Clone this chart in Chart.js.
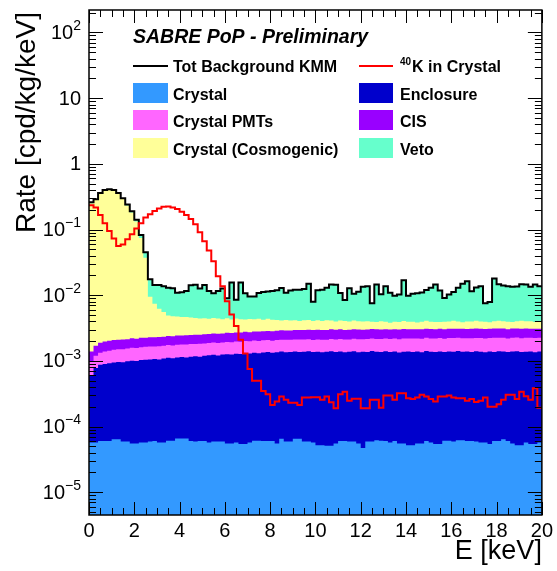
<!DOCTYPE html>
<html>
<head>
<meta charset="utf-8">
<script src="https://cdn.jsdelivr.net/npm/chart.js@4.4.1/dist/chart.umd.min.js"></script>
<style>
  html, body { margin: 0; padding: 0; background: #fff; }
  #wrap { width: 557px; height: 571px; }
</style>
</head>
<body>
<div id="wrap"><canvas id="spectrum"></canvas></div>
<script>
// lower edges of the 0.2 keV bins
const binLow = [
  0, 0.2, 0.4, 0.6, 0.8, 1, 1.2, 1.4, 1.6, 1.8,
  2, 2.2, 2.4, 2.6, 2.8, 3, 3.2, 3.4, 3.6, 3.8,
  4, 4.2, 4.4, 4.6, 4.8, 5, 5.2, 5.4, 5.6, 5.8,
  6, 6.2, 6.4, 6.6, 6.8, 7, 7.2, 7.4, 7.6, 7.8,
  8, 8.2, 8.4, 8.6, 8.8, 9, 9.2, 9.4, 9.6, 9.8,
  10, 10.2, 10.4, 10.6, 10.8, 11, 11.2, 11.4, 11.6, 11.8,
  12, 12.2, 12.4, 12.6, 12.8, 13, 13.2, 13.4, 13.6, 13.8,
  14, 14.2, 14.4, 14.6, 14.8, 15, 15.2, 15.4, 15.6, 15.8,
  16, 16.2, 16.4, 16.6, 16.8, 17, 17.2, 17.4, 17.6, 17.8,
  18, 18.2, 18.4, 18.6, 18.8, 19, 19.2, 19.4, 19.6, 19.8
];
const E_MAX = 20;

// components of the stacked background [cpd/kg/keV]
const crystal = [
  5.7e-5, 5.7e-5, 6.0e-5, 6.0e-5, 6.0e-5, 6.4e-5, 6.4e-5, 5.9e-5, 5.9e-5, 5.5e-5,
  5.5e-5, 5.7e-5, 5.7e-5, 5.9e-5, 6.0e-5, 5.7e-5, 5.7e-5, 6.1e-5, 6.1e-5, 6.6e-5,
  6.6e-5, 6.6e-5, 6.0e-5, 5.9e-5, 6.0e-5, 6.0e-5, 5.7e-5, 5.9e-5, 5.9e-5, 5.9e-5,
  5.5e-5, 5.5e-5, 5.7e-5, 5.4e-5, 5.4e-5, 5.7e-5, 6.1e-5, 6.1e-5, 6.0e-5, 6.0e-5,
  6.0e-5, 5.5e-5, 6.5e-5, 5.9e-5, 5.9e-5, 6.5e-5, 6.5e-5, 5.9e-5, 5.9e-5, 5.7e-5,
  5.2e-5, 5.2e-5, 5.1e-5, 5.1e-5, 5.5e-5, 6.0e-5, 6.0e-5, 5.9e-5, 5.9e-5, 5.5e-5,
  4.7e-5, 5.9e-5, 5.9e-5, 6.2e-5, 6.1e-5, 6.0e-5, 5.7e-5, 6.0e-5, 5.5e-5, 5.5e-5,
  5.2e-5, 5.2e-5, 5.5e-5, 5.5e-5, 6.0e-5, 5.7e-5, 5.4e-5, 5.4e-5, 6.1e-5, 6.1e-5,
  5.9e-5, 6.2e-5, 6.2e-5, 6.0e-5, 6.0e-5, 5.9e-5, 5.7e-5, 5.7e-5, 5.4e-5, 6.0e-5,
  6.0e-5, 6.4e-5, 6.0e-5, 5.5e-5, 5.2e-5, 5.2e-5, 5.7e-5, 5.4e-5, 5.4e-5, 5.7e-5
];
const enclosure = [
  0.55e-3, 0.72e-3, 0.81e-3, 0.84e-3, 0.86e-3, 0.88e-3, 0.90e-3, 0.89e-3, 0.93e-3, 0.95e-3,
  0.94e-3, 0.97e-3, 0.98e-3, 0.99e-3, 1.01e-3, 0.99e-3, 1.03e-3, 1.05e-3, 1.04e-3, 1.06e-3,
  1.08e-3, 1.06e-3, 1.10e-3, 1.12e-3, 1.10e-3, 1.14e-3, 1.16e-3, 1.18e-3, 1.15e-3, 1.19e-3,
  1.21e-3, 1.19e-3, 1.23e-3, 1.22e-3, 1.25e-3, 1.24e-3, 1.27e-3, 1.25e-3, 1.28e-3, 1.30e-3,
  1.27e-3, 1.30e-3, 1.32e-3, 1.29e-3, 1.31e-3, 1.33e-3, 1.30e-3, 1.32e-3, 1.34e-3, 1.31e-3,
  1.33e-3, 1.30e-3, 1.32e-3, 1.35e-3, 1.31e-3, 1.33e-3, 1.29e-3, 1.32e-3, 1.34e-3, 1.30e-3,
  1.33e-3, 1.31e-3, 1.35e-3, 1.32e-3, 1.30e-3, 1.34e-3, 1.31e-3, 1.33e-3, 1.29e-3, 1.32e-3,
  1.34e-3, 1.31e-3, 1.33e-3, 1.30e-3, 1.35e-3, 1.32e-3, 1.31e-3, 1.34e-3, 1.30e-3, 1.33e-3,
  1.32e-3, 1.35e-3, 1.31e-3, 1.33e-3, 1.30e-3, 1.34e-3, 1.32e-3, 1.29e-3, 1.33e-3, 1.31e-3,
  1.34e-3, 1.32e-3, 1.30e-3, 1.33e-3, 1.35e-3, 1.31e-3, 1.32e-3, 1.34e-3, 1.30e-3, 1.33e-3
];
const pmts = [
  0.37e-3, 0.42e-3, 0.46e-3, 0.49e-3, 0.51e-3, 0.53e-3, 0.54e-3, 0.56e-3, 0.55e-3, 0.58e-3,
  0.57e-3, 0.59e-3, 0.60e-3, 0.61e-3, 0.59e-3, 0.62e-3, 0.61e-3, 0.63e-3, 0.62e-3, 0.64e-3,
  0.63e-3, 0.65e-3, 0.64e-3, 0.63e-3, 0.66e-3, 0.64e-3, 0.65e-3, 0.66e-3, 0.67e-3, 0.65e-3,
  0.68e-3, 0.67e-3, 0.69e-3, 0.68e-3, 0.70e-3, 0.69e-3, 0.71e-3, 0.70e-3, 0.72e-3, 0.71e-3,
  0.70e-3, 0.73e-3, 0.72e-3, 0.74e-3, 0.73e-3, 0.72e-3, 0.75e-3, 0.73e-3, 0.74e-3, 0.72e-3,
  0.74e-3, 0.75e-3, 0.73e-3, 0.76e-3, 0.75e-3, 0.77e-3, 0.76e-3, 0.74e-3, 0.77e-3, 0.78e-3,
  0.76e-3, 0.78e-3, 0.79e-3, 0.77e-3, 0.79e-3, 0.80e-3, 0.78e-3, 0.80e-3, 0.79e-3, 0.81e-3,
  0.80e-3, 0.82e-3, 0.80e-3, 0.81e-3, 0.83e-3, 0.81e-3, 0.82e-3, 0.84e-3, 0.82e-3, 0.83e-3,
  0.85e-3, 0.83e-3, 0.84e-3, 0.82e-3, 0.85e-3, 0.84e-3, 0.86e-3, 0.84e-3, 0.85e-3, 0.87e-3,
  0.85e-3, 0.86e-3, 0.84e-3, 0.87e-3, 0.86e-3, 0.85e-3, 0.87e-3, 0.86e-3, 0.88e-3, 0.86e-3
];
const cis = [
  0.41e-3, 0.50e-3, 0.56e-3, 0.58e-3, 0.59e-3, 0.60e-3, 0.59e-3, 0.61e-3, 0.60e-3, 0.62e-3,
  0.61e-3, 0.63e-3, 0.62e-3, 0.64e-3, 0.63e-3, 0.65e-3, 0.64e-3, 0.66e-3, 0.65e-3, 0.67e-3,
  0.66e-3, 0.68e-3, 0.67e-3, 0.69e-3, 0.68e-3, 0.70e-3, 0.70e-3, 0.71e-3, 0.72e-3, 0.71e-3,
  0.73e-3, 0.74e-3, 0.73e-3, 0.75e-3, 0.76e-3, 0.75e-3, 0.77e-3, 0.78e-3, 0.77e-3, 0.79e-3,
  0.80e-3, 0.79e-3, 0.81e-3, 0.82e-3, 0.81e-3, 0.83e-3, 0.84e-3, 0.83e-3, 0.85e-3, 0.86e-3,
  0.85e-3, 0.86e-3, 0.84e-3, 0.87e-3, 0.85e-3, 0.86e-3, 0.84e-3, 0.86e-3, 0.85e-3, 0.87e-3,
  0.84e-3, 0.86e-3, 0.85e-3, 0.87e-3, 0.85e-3, 0.84e-3, 0.86e-3, 0.85e-3, 0.87e-3, 0.86e-3,
  0.84e-3, 0.86e-3, 0.85e-3, 0.87e-3, 0.85e-3, 0.86e-3, 0.84e-3, 0.86e-3, 0.85e-3, 0.87e-3,
  0.85e-3, 0.84e-3, 0.86e-3, 0.85e-3, 0.87e-3, 0.86e-3, 0.84e-3, 0.86e-3, 0.85e-3, 0.87e-3,
  0.85e-3, 0.86e-3, 0.84e-3, 0.86e-3, 0.85e-3, 0.87e-3, 0.86e-3, 0.84e-3, 0.86e-3, 0.85e-3
];
const cosmogenic = [
  0.25, 0.28, 0.35, 0.39, 0.40, 0.39, 0.35, 0.29, 0.23, 0.18,
  0.13, 0.072, 0.035, 0.0072, 0.0051, 0.0039, 0.0032, 0.0025, 0.0024, 0.0023,
  0.0022, 0.0022, 0.0021, 0.0020, 0.0019, 0.0019, 0.0018, 0.0019, 0.0018, 0.0017,
  0.0018, 0.0016, 0.0017, 0.0016, 0.0015, 0.0016, 0.0015, 0.0016, 0.0014, 0.0015,
  0.0014, 0.0013, 0.0012, 0.0013, 0.0012, 0.0012, 0.0011, 0.0012, 0.0012, 0.0011,
  0.0012, 0.0011, 0.0012, 0.0011, 0.0010, 0.0011, 0.0011, 0.0010, 0.0011, 0.0010,
  0.0010, 0.0010, 0.0009, 0.0009, 0.0010, 0.0009, 0.0008, 0.0009, 0.0009, 0.0010,
  0.0009, 0.0009, 0.0008, 0.0009, 0.0010, 0.0009, 0.0009, 0.0008, 0.0009, 0.0009,
  0.0010, 0.0009, 0.0008, 0.0009, 0.0009, 0.0010, 0.0009, 0.0009, 0.0008, 0.0009,
  0.0010, 0.0009, 0.0009, 0.0008, 0.0009, 0.0010, 0.0009, 0.0009, 0.0008, 0.0009
];
const veto = [
  0.0080, 0.0078, 0.0082, 0.0079, 0.0081, 0.0080, 0.0078, 0.0082, 0.0080, 0.0079,
  0.0081, 0.0080, 0.0078, 0.0080, 0.0069, 0.0081, 0.0082, 0.0081, 0.0080, 0.0062,
  0.0065, 0.0069, 0.0096, 0.0099, 0.0083, 0.0099, 0.0072, 0.0062, 0.0072, 0.0083,
  0.0045, 0.0113, 0.0041, 0.0113, 0.0064, 0.0052, 0.0052, 0.0064, 0.0070, 0.0070,
  0.0074, 0.0077, 0.0088, 0.0067, 0.0077, 0.0080, 0.0080, 0.0083, 0.0108, 0.0039,
  0.0077, 0.0080, 0.0088, 0.0104, 0.0104, 0.0067, 0.0044, 0.0088, 0.0064, 0.0073,
  0.0095, 0.0097, 0.0036, 0.0106, 0.0063, 0.0097, 0.0071, 0.0059, 0.0063, 0.0128,
  0.0059, 0.0066, 0.0069, 0.0071, 0.0079, 0.0090, 0.0106, 0.0079, 0.0051, 0.0063,
  0.0071, 0.0090, 0.0110, 0.0123, 0.0075, 0.0090, 0.0097, 0.0036, 0.0040, 0.0139,
  0.0106, 0.0101, 0.0097, 0.0095, 0.0095, 0.0106, 0.0106, 0.0095, 0.0106, 0.0097
];
// 40K in the crystal, drawn unstacked
const k40 = [
  0.235, 0.217, 0.166, 0.125, 0.095, 0.073, 0.056, 0.059, 0.071, 0.085,
  0.104, 0.125, 0.153, 0.171, 0.192, 0.209, 0.222, 0.225, 0.217, 0.205,
  0.186, 0.166, 0.144, 0.120, 0.091, 0.066, 0.048, 0.033, 0.0195, 0.0137,
  0.0081, 0.0051, 0.0034, 0.0021, 0.0013, 0.00075, 0.00050, 0.00050, 0.000349, 0.00031,
  0.000213, 0.00024, 0.000286, 0.000255, 0.000231, 0.000231, 0.000213, 0.000276, 0.000276, 0.00028,
  0.00028, 0.000255, 0.000286, 0.000235, 0.00019, 0.00031, 0.00034, 0.000248, 0.000265, 0.000265,
  0.00019, 0.00019, 0.000255, 0.000255, 0.000194, 0.000296, 0.000296, 0.000255, 0.000321, 0.000321,
  0.00027, 0.000262, 0.000276, 0.000306, 0.000286, 0.000262, 0.00024, 0.000286, 0.000286, 0.000296,
  0.000276, 0.00027, 0.00027, 0.000246, 0.000262, 0.000236, 0.000246, 0.000276, 0.0002, 0.0002,
  0.000218, 0.000255, 0.000306, 0.000306, 0.000262, 0.00034, 0.00029, 0.000255, 0.000384, 0.000194
];

const yLabelExps = [2, 1, 0, -1, -2, -3, -4, -5];
const Y_MIN = 4.5e-6;
const Y_MAX = 220;
const FONT = '"Liberation Sans", Arial, Helvetica, sans-serif';

const stackDefs = [
  { label: 'Crystal', values: crystal, color: '#3399ff' },
  { label: 'Enclosure', values: enclosure, color: '#0000cc' },
  { label: 'Crystal PMTs', values: pmts, color: '#ff66ff' },
  { label: 'CIS', values: cis, color: '#9900ff' },
  { label: 'Crystal (Cosmogenic)', values: cosmogenic, color: '#ffff99' },
  { label: 'Veto', values: veto, color: '#66ffcc' }
];
const total = binLow.map((_, i) => stackDefs.reduce((s, d) => s + d.values[i], 0));

// histogram points: one per lower edge, plus the closing edge
function steps(vals) {
  const pts = vals.map((v, i) => ({ x: binLow[i], y: v }));
  pts.push({ x: E_MAX, y: vals[vals.length - 1] });
  return pts;
}

const datasets = stackDefs.map(d => ({
  label: d.label,
  data: steps(d.values),
  yAxisID: 'y',
  stepped: true,
  fill: 'start',
  backgroundColor: d.color,
  borderColor: 'rgba(0,0,0,0)',
  borderWidth: 0,
  pointRadius: 0,
  order: 1
}));
datasets.push({
  label: 'Tot Background KMM',
  data: steps(total),
  yAxisID: 'y2',
  stepped: true,
  fill: false,
  borderColor: '#000',
  borderWidth: 2,
  pointRadius: 0,
  order: 0
});
datasets.push({
  label: '40K in Crystal',
  data: steps(k40),
  yAxisID: 'y2',
  stepped: true,
  fill: false,
  borderColor: '#ff0000',
  borderWidth: 2,
  pointRadius: 0,
  order: -1
});

// legend layout: [left column, right column] per row
const legendRows = [
  ['Tot Background KMM', '40K in Crystal'],
  ['Crystal', 'Enclosure'],
  ['Crystal PMTs', 'CIS'],
  ['Crystal (Cosmogenic)', 'Veto']
];

const rootStyle = {
  id: 'rootStyle',
  afterDatasetsDraw(chart) {
    const { ctx, chartArea: a, scales: { x, y } } = chart;
    ctx.save();
    ctx.strokeStyle = '#000';
    ctx.lineWidth = 1;
    ctx.beginPath();
    for (let k = 0; k <= 40; k++) {
      const px = Math.round(x.getPixelForValue(k * 0.5)) + 0.5;
      const len = k % 4 === 0 ? 13 : 7;
      ctx.moveTo(px, a.bottom); ctx.lineTo(px, a.bottom - len);
      ctx.moveTo(px, a.top); ctx.lineTo(px, a.top + len);
    }
    for (let e = -6; e <= 2; e++) {
      for (let m = 1; m <= 9; m++) {
        const v = m * Math.pow(10, e);
        if (v < Y_MIN || v > Y_MAX) continue;
        const py = Math.round(y.getPixelForValue(v)) + 0.5;
        const len = m === 1 ? 14 : 7;
        ctx.moveTo(a.left, py); ctx.lineTo(a.left + len, py);
        ctx.moveTo(a.right, py); ctx.lineTo(a.right - len, py);
      }
    }
    ctx.stroke();
    ctx.lineWidth = 1.5;
    ctx.strokeRect(a.left, a.top, a.width, a.height);

    // y tick labels
    ctx.fillStyle = '#000';
    ctx.textBaseline = 'middle';
    ctx.textAlign = 'right';
    yLabelExps.forEach(e => {
      const py = y.getPixelForValue(Math.pow(10, e)) + 1;
      const xr = 81;
      if (e === 0 || e === 1) {
        ctx.font = '20px ' + FONT;
        ctx.fillText(e === 0 ? '1' : '10', xr, py);
        return;
      }
      const sup = (e < 0 ? '\u2212' : '') + Math.abs(e);
      ctx.font = '14px ' + FONT;
      const ws = ctx.measureText(sup).width;
      ctx.fillText(sup, xr, py - 7);
      ctx.font = '20px ' + FONT;
      ctx.fillText('10', xr - ws, py);
    });

    // axis titles
    ctx.textBaseline = 'alphabetic';
    ctx.font = '27px ' + FONT;
    ctx.textAlign = 'right';
    ctx.fillText('E [keV]', a.right, 559);
    ctx.save();
    ctx.translate(35, 12);
    ctx.rotate(-Math.PI / 2);
    ctx.font = '28px ' + FONT;
    ctx.fillText('Rate [cpd/kg/keV]', 0, 0);
    ctx.restore();

    // in-frame title
    ctx.textAlign = 'left';
    ctx.font = 'italic bold 19.5px ' + FONT;
    ctx.fillText('SABRE PoP - Preliminary', 133, 43);

    // legend
    const cols = [{ sym: 133, w: 35, text: 173 }, { sym: 359, w: 34, text: 400 }];
    const baselines = [72, 100, 127, 155];
    legendRows.forEach((row, r) => {
      row.forEach((label, c) => {
        const ds = chart.data.datasets.find(d => d.label === label);
        const col = cols[c];
        const base = baselines[r];
        if (ds.fill === false) {
          ctx.strokeStyle = ds.borderColor;
          ctx.lineWidth = 2;
          ctx.beginPath();
          ctx.moveTo(col.sym, base - 6);
          ctx.lineTo(col.sym + col.w, base - 6);
          ctx.stroke();
        } else {
          ctx.fillStyle = ds.backgroundColor;
          ctx.fillRect(col.sym, base - 17, col.w, 20);
        }
        ctx.fillStyle = '#000';
        if (label.startsWith('40K')) {
          ctx.font = 'bold 10px ' + FONT;
          ctx.fillText('40', col.text, base - 7);
          const w = ctx.measureText('40').width;
          ctx.font = 'bold 16px ' + FONT;
          ctx.fillText(label.slice(2), col.text + w + 1, base);
        } else {
          ctx.font = 'bold 16px ' + FONT;
          ctx.fillText(label, col.text, base);
        }
      });
    });
    ctx.restore();
  }
};

new Chart(document.getElementById('spectrum'), {
  type: 'line',
  data: { datasets },
  options: {
    responsive: true,
    maintainAspectRatio: false,
    animation: false,
    layout: { padding: { top: 10, right: 12, left: 0, bottom: 0 } },
    plugins: {
      legend: { display: false },
      tooltip: { enabled: false },
      filler: { propagate: false }
    },
    scales: {
      x: {
        type: 'linear',
        min: 0,
        max: E_MAX,
        ticks: {
          stepSize: 2,
          autoSkip: false,
          maxRotation: 0,
          padding: 4,
          color: '#000',
          font: { family: FONT, size: 20 }
        },
        grid: { display: false, drawTicks: false },
        border: { display: false },
        afterFit(s) { s.height = 56; }
      },
      y: {
        type: 'logarithmic',
        stacked: true,
        min: Y_MIN,
        max: Y_MAX,
        ticks: { display: false },
        grid: { display: false, drawTicks: false },
        border: { display: false },
        afterFit(s) { s.width = 89; }
      },
      y2: {
        type: 'logarithmic',
        display: false,
        min: Y_MIN,
        max: Y_MAX
      }
    }
  },
  plugins: [rootStyle]
});
</script>
</body>
</html>
